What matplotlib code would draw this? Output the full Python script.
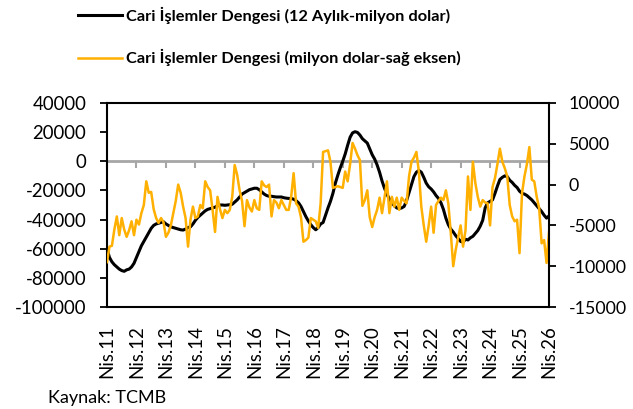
import numpy as np
import matplotlib
matplotlib.use("Agg")
import matplotlib.pyplot as plt

plt.rcParams["font.family"] = ["Lato", "DejaVu Sans"]
plt.rcParams["axes.unicode_minus"] = False

# monthly, Nis.11 .. Nis.26
black_12m = [
    -60000, -66000, -69000, -71000, -72500, -74000, -75000, -75500, -74500, -74000,
    -72500, -70000, -66000, -62000, -58000, -55000, -52000, -49000, -46000, -44000,
    -43000, -42500, -42000, -41500, -43000, -44000, -45000, -45500, -46000, -46500,
    -47000, -47200, -46500, -45500, -45000, -43000, -40500, -38500, -37000, -35500,
    -34000, -33000, -32500, -32000, -31500, -30500, -30000, -30000, -30200, -30000,
    -29800, -29500, -28000, -26500, -24500, -22500, -21500, -20500, -19500, -19000,
    -18500, -18500, -19500, -21000, -22500, -23500, -24000, -24000, -24300, -24500,
    -24500, -24500, -25000, -25300, -25500, -25500, -26000, -27000, -28500, -31000,
    -34500, -38000, -41000, -43500, -45500, -47000, -45500, -43000, -42000, -37000,
    -32000, -27500, -22000, -15000, -9500, -4500, 0, 5000, 11000, 16500,
    19500, 20300, 19800, 18000, 15500, 14000, 12500, 8500, 4500, 1500,
    -2500, -7500, -13500, -18500, -22500, -26000, -28500, -30500, -32000, -32500,
    -32000, -31000, -27000, -21500, -16000, -10500, -7500, -6300, -7500, -11000,
    -15000, -17500, -19000, -21000, -23500, -25500, -28500, -33000, -39000, -43500,
    -46500, -48500, -51000, -53000, -55000, -55500, -53500, -54000, -52500, -51500,
    -49500, -47500, -44500, -40500, -32000, -28500, -27500, -26500, -22000, -17000,
    -12500, -11000, -10000, -10500, -13000, -14500, -16500, -18000, -20500, -22000,
    -22500, -23500, -25000, -26500, -28500, -30500, -32500, -34500, -37000, -39000,
    -37500,
]
orange_monthly = [
    -9500, -7600, -7500, -5500, -3900, -6200, -4100, -5500, -6400, -5600,
    -4500, -6200, -4300, -4900, -3500, -2500, 400, -1000, -900, -3000,
    -4100, -4700, -4100, -4600, -6400, -5900, -5000, -3500, -2000, 0,
    -1000, -2700, -4100, -7600, -4300, -2700, -4100, -3900, -2500, -2900,
    400, -300, -700, -3100, -5800, -1500, -3000, -4100, -3100, -3500,
    -3100, -1500, 2400, 1200, -700, -2000, -5100, -1900, -2800, -3300,
    -1900, -2900, -3100, 400, -100, -300, 0, -3900, -1900, -2200,
    -2900, -1900, -2500, -3100, -3100, -1500, 1400, -2300, -2700, -4000,
    -7000, -6800, -6500, -4100, -4300, -4500, -5300, -2300, 4000, 4100,
    4200, 2800, -400, -300, -200, -300, -400, 1600, 400, 2500,
    5100, 4400, 3600, 3000, -2600, -1900, -700, -4000, -5200, -4000,
    -3100, -1600, -3500, -1600, 400, -3500, -1500, -2700, -1600, -3100,
    -1600, -2000, -2300, 1000, 2800, 3300, 4000, 1600, -2700, -5000,
    -7000, -5000, -2700, -5900, -2500, -2000, -1600, -1900, -700, -2300,
    -5900, -10000, -8000, -6500, -5000, -7600, -5600, 1000, -3100, 2800,
    200, -1500, -2700, -1900, -2200, -2300, -5000, -300, 800, 2500,
    4400, 2800, 2000, 1000, -2500, -3900, -4500, -4300, -8400, -1100,
    1000, 2500, 4600, 600, 400, -1500, -2900, -7200, -6800, -9600,
    -5800,
]
year_labels = ["Nis.%02d" % y for y in range(11, 27)]
left_ticks = [40000, 20000, 0, -20000, -40000, -60000, -80000, -100000]
right_ticks = [10000, 5000, 0, -5000, -10000, -15000]
lbl_black = "Cari İşlemler Dengesi (12 Aylık-milyon dolar)"
lbl_orange = "Cari İşlemler Dengesi (milyon dolar-sağ eksen)"

x = np.arange(len(black_12m))
BLK, ORG, GRY = "#000000", "#FFB000", "#A6A6A6"
FS = 13.4

fig = plt.figure(figsize=(6.33, 4.09), dpi=100)
ax = fig.add_axes([107/633, 1-307/409, 442/633, 204/409])
ax2 = ax.twinx()

ax.axhline(0, color=GRY, lw=2, zorder=1)
l1, = ax.plot(x, black_12m, color=BLK, lw=2.2, zorder=3, label=lbl_black)
l2, = ax2.plot(x, orange_monthly, color=ORG, lw=1.8, label=lbl_orange)

ax.set_xlim(0, len(x)-1)
ax.set_ylim(-100000, 40000)
ax2.set_ylim(-15000, 10000)
ax.set_yticks(left_ticks)
ax2.set_yticks(right_ticks)
ax.tick_params(axis="y", labelsize=FS, length=5, width=1.3, direction="out", pad=10)
ax2.tick_params(axis="y", labelsize=12.8, length=5, width=1.3, direction="out", pad=9)

xt = np.arange(0, len(x), 12)
ax.set_xticks(xt)
ax.set_xticklabels(year_labels, rotation=90, fontsize=FS)
ax.tick_params(axis="x", length=0, pad=13)

for s in ["left", "top", "bottom"]:
    ax.spines[s].set_linewidth(1.5)
ax.spines["right"].set_visible(False)
for s in ["left", "top", "bottom"]:
    ax2.spines[s].set_visible(False)
ax2.spines["right"].set_linewidth(1.5)

# category axis crossing at zero (gray, with year ticks)
zero_frac = (0 - ax.get_ylim()[0]) / (ax.get_ylim()[1] - ax.get_ylim()[0])
sec = ax.secondary_xaxis(zero_frac)
sec.set_xticks(xt)
sec.set_xticklabels([])
sec.tick_params(axis="x", direction="in", length=5, width=1.5, color=GRY)
for s in sec.spines.values():
    s.set_visible(False)

fig.legend([l1, l2], [lbl_black, lbl_orange], loc="upper left",
           bbox_to_anchor=(71/633, 1.0), frameon=False, borderaxespad=0,
           prop={"weight": "bold", "size": 11.8}, handlelength=2.7,
           handletextpad=0.25, labelspacing=1.55)

fig.text(48/633, 1-398/409, "Kaynak: TCMB", fontsize=13, va="center")

fig.savefig("out.png", dpi=100)
